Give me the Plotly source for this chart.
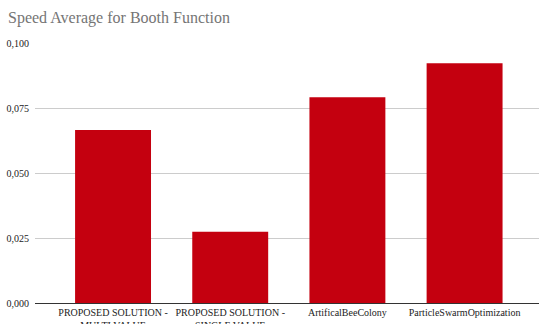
import plotly.graph_objects as go

# Average speed per optimisation method on the Booth function
categories = [
    "PROPOSED SOLUTION -<br>MULTI VALUE",
    "PROPOSED SOLUTION -<br>SINGLE VALUE",
    "ArtificalBeeColony",
    "ParticleSwarmOptimization",
]
speed_avg = [0.0665, 0.0274, 0.0791, 0.0922]
y_ticks = [0.0, 0.025, 0.05, 0.075, 0.1]

W, H = 539, 324
serif = "Liberation Serif, Times New Roman, serif"

fig = go.Figure(
    go.Bar(
        x=categories,
        y=speed_avg,
        marker=dict(color="#c4000f", line=dict(width=0)),
        hoverinfo="x+y",
    )
)

fig.update_layout(
    width=W,
    height=H,
    margin=dict(l=35, r=0, t=43, b=21, pad=0),
    paper_bgcolor="white",
    plot_bgcolor="white",
    separators=",.",
    bargap=0.352,
    showlegend=False,
    title=dict(
        text="Speed Average for Booth Function",
        x=8 / W,
        xanchor="left",
        xref="container",
        y=1 - 17 / H,
        yanchor="middle",
        font=dict(family=serif, size=16, color="#757575"),
    ),
    font=dict(family=serif, size=10, color="#222222"),
)

fig.update_xaxes(
    type="category",
    range=[-0.666, 3.635],
    showgrid=False,
    showline=False,
    ticks="",
    ticklabelstandoff=2,
    tickfont=dict(family=serif, size=10, color="#222222"),
    automargin=False,
    fixedrange=True,
)

fig.update_yaxes(
    range=[0, 0.1],
    tickvals=y_ticks,
    tickformat=".3f",
    showgrid=True,
    gridcolor="#cccccc",
    gridwidth=1,
    zeroline=True,
    zerolinecolor="#333333",
    zerolinewidth=1,
    showline=False,
    ticks="",
    ticklabelstandoff=5,
    tickfont=dict(family=serif, size=10, color="#222222"),
    automargin=False,
    fixedrange=True,
)

fig.write_html("out.html", config={"displayModeBar": False})
